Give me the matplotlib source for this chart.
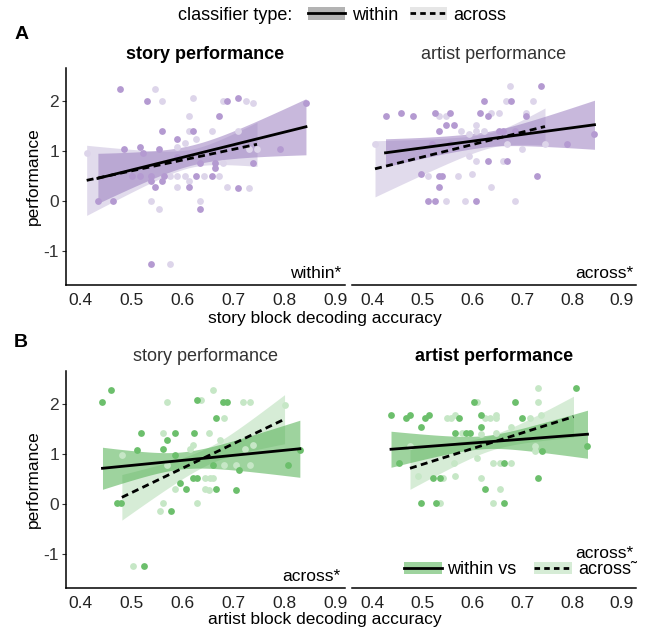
import numpy as np
import matplotlib
matplotlib.use('Agg')
import matplotlib.pyplot as plt
from matplotlib.lines import Line2D
from matplotlib.patches import Patch

plt.rcParams['font.family'] = ['Liberation Sans', 'DejaVu Sans']
plt.rcParams['font.size'] = 12
plt.rcParams['axes.unicode_minus'] = False

# ---- data (decoding accuracy, performance) ----
# A: story block decoding accuracy
a_story_within_x = [0.479, 0.532, 0.688, 0.709, 0.843, 0.673, 0.561, 0.621, 0.591, 0.487, 0.517, 0.524,
                    0.554, 0.792, 0.740, 0.665, 0.665, 0.635, 0.502, 0.517, 0.539, 0.565, 0.628, 0.658,
                    0.539, 0.560, 0.546, 0.613, 0.710, 0.435, 0.464, 0.636, 0.539, 0.591]
a_story_within_y = [2.24, 2.0, 2.0, 2.05, 1.95, 1.69, 1.4, 1.4, 1.24, 1.04, 1.07, 0.96,
                    1.04, 1.04, 0.75, 0.75, 0.65, 0.75, 0.49, 0.49, 0.49, 0.49, 0.49, 0.49,
                    0.4, 0.4, 0.28, 0.28, 0.25, 0.0, 0.0, -0.17, -1.26, 0.88]
a_story_across_x = [0.413, 0.546, 0.561, 0.621, 0.680, 0.725, 0.740, 0.613, 0.613, 0.658, 0.710, 0.628,
                    0.606, 0.591, 0.732, 0.747, 0.680, 0.576, 0.591, 0.606, 0.643, 0.673, 0.591, 0.688,
                    0.732, 0.539, 0.635, 0.554, 0.576, 0.613]
a_story_across_y = [0.95, 2.24, 2.0, 2.05, 2.0, 2.0, 1.95, 1.69, 1.4, 1.4, 1.4, 1.24,
                    1.15, 1.07, 1.04, 1.04, 0.75, 0.49, 0.49, 0.49, 0.49, 0.49, 0.28, 0.28,
                    0.25, 0.0, 0.0, -0.17, -1.26, 0.4]

a_artist_within_x = [0.427, 0.458, 0.481, 0.526, 0.557, 0.549, 0.565, 0.534, 0.617, 0.625, 0.678, 0.739,
                     0.633, 0.655, 0.663, 0.686, 0.709, 0.519, 0.556, 0.791, 0.845, 0.497, 0.534, 0.541,
                     0.534, 0.633, 0.671, 0.731, 0.511, 0.526, 0.609]
a_artist_within_y = [1.69, 1.75, 1.69, 1.75, 1.75, 1.51, 1.51, 1.39, 1.75, 2.0, 2.0, 2.29,
                     1.69, 1.39, 1.39, 1.39, 1.69, 1.14, 1.14, 1.14, 1.33, 0.53, 0.49, 0.49,
                     0.27, 0.79, 0.79, 0.49, 0.0, 0.0, 0.0]
a_artist_across_x = [0.406, 0.534, 0.549, 0.639, 0.655, 0.669, 0.677, 0.723, 0.609, 0.609, 0.579, 0.595,
                     0.625, 0.671, 0.708, 0.746, 0.701, 0.511, 0.573, 0.601, 0.609, 0.663, 0.595, 0.639,
                     0.549, 0.586, 0.686]
a_artist_across_y = [1.14, 1.69, 1.69, 1.75, 1.75, 2.0, 2.29, 2.0, 1.51, 1.39, 1.39, 1.34,
                     1.39, 1.14, 1.75, 1.14, 1.04, 0.49, 0.49, 0.53, 0.79, 0.79, 0.89, 0.27,
                     0.0, 0.0, 0.0]

# B: artist block decoding accuracy
b_story_within_x = [0.444, 0.460, 0.519, 0.511, 0.571, 0.563, 0.586, 0.623, 0.630, 0.667, 0.681, 0.689,
                    0.586, 0.596, 0.608, 0.622, 0.629, 0.667, 0.705, 0.712, 0.808, 0.831, 0.473, 0.480,
                    0.578, 0.526, 0.661]
b_story_within_y = [2.03, 2.27, 1.42, 1.07, 1.27, 1.1, 1.42, 1.42, 2.07, 1.71, 2.03, 2.03,
                    0.97, 0.42, 0.3, 0.52, 0.52, 0.3, 0.27, 0.68, 0.78, 1.07, 0.01, 0.01,
                    -0.15, -1.24, 0.77]
b_story_across_x = [0.482, 0.571, 0.638, 0.660, 0.719, 0.734, 0.682, 0.563, 0.652, 0.675, 0.622, 0.615,
                    0.724, 0.740, 0.682, 0.705, 0.734, 0.571, 0.586, 0.645, 0.654, 0.660, 0.645, 0.653,
                    0.563, 0.630, 0.556, 0.503, 0.801]
b_story_across_y = [0.98, 2.03, 2.07, 2.27, 2.03, 2.03, 1.71, 1.42, 1.42, 1.27, 1.17, 1.1,
                    1.1, 1.17, 0.77, 0.77, 0.77, 0.77, 0.3, 0.52, 0.52, 0.52, 0.3, 0.27,
                    0.01, 0.01, -0.15, -1.24, 1.98]

b_artist_within_x = [0.438, 0.467, 0.476, 0.506, 0.513, 0.498, 0.566, 0.589, 0.596, 0.605, 0.619, 0.619,
                     0.687, 0.701, 0.809, 0.741, 0.831, 0.453, 0.521, 0.536, 0.626, 0.665, 0.733, 0.498,
                     0.528, 0.665, 0.574]
b_artist_within_y = [1.77, 1.71, 1.77, 1.71, 1.77, 1.53, 1.41, 1.41, 1.41, 2.03, 1.77, 1.53,
                     2.03, 1.71, 2.31, 1.06, 1.16, 0.81, 0.51, 0.51, 0.29, 0.81, 0.51, 0.01,
                     0.01, 0.01, 1.71]
b_artist_across_x = [0.491, 0.543, 0.566, 0.551, 0.559, 0.566, 0.581, 0.611, 0.626, 0.636, 0.649, 0.649,
                     0.733, 0.733, 0.717, 0.679, 0.739, 0.726, 0.726, 0.619, 0.649, 0.611, 0.565, 0.643,
                     0.656, 0.679, 0.619, 0.657, 0.536, 0.643, 0.476]
b_artist_across_y = [0.56, 0.51, 0.55, 1.71, 1.71, 1.77, 1.41, 2.03, 1.71, 1.71, 1.77, 1.71,
                     2.31, 2.03, 1.71, 1.53, 1.77, 1.16, 1.06, 1.39, 1.41, 0.91, 0.81, 0.81,
                     0.81, 0.81, 0.51, 0.29, 0.01, 0.01, 1.16]

# regression fits:
# [x start, x end, y start, y end, x of narrowest band, half-width at start, at narrowest, at end]
a_story_within_fit = [0.435, 0.843, 0.45, 1.48, 0.62, 0.50, 0.20, 0.56]
a_story_across_fit = [0.413, 0.747, 0.41, 1.13, 0.62, 0.70, 0.18, 0.44]
a_artist_within_fit = [0.427, 0.845, 0.96, 1.52, 0.62, 0.28, 0.15, 0.49]
a_artist_across_fit = [0.406, 0.746, 0.64, 1.485, 0.64, 0.56, 0.15, 0.37]
b_story_within_fit = [0.444, 0.831, 0.71, 1.10, 0.60, 0.42, 0.17, 0.57]
b_story_across_fit = [0.482, 0.801, 0.13, 1.69, 0.65, 0.455, 0.17, 0.49]
b_artist_within_fit = [0.438, 0.831, 1.09, 1.39, 0.62, 0.36, 0.13, 0.48]
b_artist_across_fit = [0.476, 0.803, 0.71, 1.74, 0.64, 0.42, 0.15, 0.41]

x_ticks = [0.4, 0.5, 0.6, 0.7, 0.8, 0.9]
y_ticks = [-1, 0, 1, 2]

purple = {'within_pt': '#B49AD1', 'across_pt': '#DDD5EA', 'within_band': '#9B7FC0', 'across_band': '#C9BEDD'}
green = {'within_pt': '#6CBF6C', 'across_pt': '#C6E7C6', 'within_band': '#4FAF4F', 'across_band': '#B5DDB5'}
band_alpha = {'within': 0.55, 'across': 0.55}


def fit_band(fit):
    # straight fitted line plus its (hyperbolic) confidence band
    x0, x1, y0, y1, xc, hw0, hwc, hw1 = fit
    xs = np.linspace(x0, x1, 100)
    ys = y0 + (y1 - y0) * (xs - x0) / (x1 - x0)
    left = np.sqrt(hwc ** 2 + (hw0 ** 2 - hwc ** 2) * ((xs - xc) / (x0 - xc)) ** 2)
    right = np.sqrt(hwc ** 2 + (hw1 ** 2 - hwc ** 2) * ((xs - xc) / (x1 - xc)) ** 2)
    hw = np.where(xs < xc, left, right)
    return xs, ys, ys - hw, ys + hw


def draw_panel(ax, wx, wy, cx, cy, wfit, cfit, col, xlim):
    for fit, key in [(cfit, 'across'), (wfit, 'within')]:
        xs, ys, lo, hi = fit_band(fit)
        ax.fill_between(xs, lo, hi, color=col[key + '_band'], alpha=band_alpha[key], lw=0, zorder=1)
    ax.scatter(cx, cy, s=24, color=col['across_pt'], lw=0, zorder=2)
    ax.scatter(wx, wy, s=24, color=col['within_pt'], lw=0, zorder=2)
    xs, ys, lo, hi = fit_band(wfit)
    ax.plot(xs, ys, color='black', lw=2, zorder=3)
    xs, ys, lo, hi = fit_band(cfit)
    ax.plot(xs, ys, color='black', lw=2, ls=(0, (2.5, 1.6)), zorder=3)
    ax.set_xlim(xlim)
    ax.set_ylim(-1.68, 2.66)
    ax.set_xticks(x_ticks)
    ax.set_xticklabels([f'{t:.1f}' for t in x_ticks])
    ax.set_yticks(y_ticks)
    ax.tick_params(axis='x', length=0, pad=6, labelsize=12.5, colors='#222222')
    ax.tick_params(axis='y', length=3, pad=2, labelsize=12.5, colors='#333333')
    for sp in ['top', 'right']:
        ax.spines[sp].set_visible(False)
    ax.spines['bottom'].set_linewidth(1.1)
    ax.spines['left'].set_linewidth(1.1)


fig = plt.figure(figsize=(6.46, 6.30), dpi=100)

w_left, w_right = 0.4319, 0.4396
h = 0.345
axA1 = fig.add_axes([0.1022, 0.5476, w_left, h])
axA2 = fig.add_axes([0.5449, 0.5476, w_right, h])
axB1 = fig.add_axes([0.1022, 0.0667, w_left, h])
axB2 = fig.add_axes([0.5449, 0.0667, w_right, h])

xlim_left = (0.3725, 0.9196)
xlim_right = (0.36, 0.928)

draw_panel(axA1, a_story_within_x, a_story_within_y, a_story_across_x, a_story_across_y,
           a_story_within_fit, a_story_across_fit, purple, xlim_left)
draw_panel(axA2, a_artist_within_x, a_artist_within_y, a_artist_across_x, a_artist_across_y,
           a_artist_within_fit, a_artist_across_fit, purple, xlim_right)
draw_panel(axB1, b_story_within_x, b_story_within_y, b_story_across_x, b_story_across_y,
           b_story_within_fit, b_story_across_fit, green, xlim_left)
draw_panel(axB2, b_artist_within_x, b_artist_within_y, b_artist_across_x, b_artist_across_y,
           b_artist_within_fit, b_artist_across_fit, green, xlim_right)

for ax in [axA2, axB2]:
    ax.spines['left'].set_visible(False)
    ax.tick_params(axis='y', left=False, labelleft=False)

for ax in [axA1, axB1]:
    ax.set_ylabel('performance', fontsize=12.5, labelpad=2)

axA1.set_title('story performance', fontsize=13, fontweight='bold', pad=6)
axA2.set_title('artist performance', fontsize=13, color='#333333', pad=6)
axB1.set_title('story performance', fontsize=13, color='#333333', pad=7)
axB2.set_title('artist performance', fontsize=13, fontweight='bold', pad=7)

fig.text(0.503, 0.495, 'story block decoding accuracy', ha='center', va='center', fontsize=12.5)
fig.text(0.503, 0.016, 'artist block decoding accuracy', ha='center', va='center', fontsize=12.5)

fig.text(0.022, 0.946, 'A', fontsize=14, fontweight='bold', va='center')
fig.text(0.022, 0.457, 'B', fontsize=14, fontweight='bold', va='center')

axA1.text(0.985, 0.02, 'within*', transform=axA1.transAxes, ha='right', va='bottom', fontsize=12.5)
axA2.text(0.99, 0.02, 'across*', transform=axA2.transAxes, ha='right', va='bottom', fontsize=12.5)
axB1.text(0.985, 0.02, 'across*', transform=axB1.transAxes, ha='right', va='bottom', fontsize=12.5)
axB2.text(0.99, 0.125, 'across*', transform=axB2.transAxes, ha='right', va='bottom', fontsize=12.5)

# legend inside B right panel
hw = (Patch(color=green['within_band'], alpha=band_alpha['within'], lw=0), Line2D([], [], color='black', lw=2))
ha_ = (Patch(color=green['across_band'], alpha=band_alpha['across'], lw=0),
       Line2D([], [], color='black', lw=2, ls=(0, (2, 1.5))))
axB2.legend([hw, ha_], ['within vs', 'across\u02dc'], loc='lower right', bbox_to_anchor=(1.06, -0.03),
            ncol=2, frameon=False, fontsize=13, handlelength=2.1, handletextpad=0.3,
            columnspacing=1.0)

# top legend
fig.text(0.452, 0.976, 'classifier type:', ha='right', va='center', fontsize=13)
tw = (Patch(color='#B3B3B3', lw=0), Line2D([], [], color='black', lw=2))
ta = (Patch(color='#E6E6E6', lw=0), Line2D([], [], color='black', lw=2, ls=(0, (2, 1.5))))
fig.legend([tw, ta], ['within', 'across'], loc='center left', bbox_to_anchor=(0.466, 0.976),
           ncol=2, frameon=False, fontsize=13, handlelength=2.05, handletextpad=0.35,
           columnspacing=0.65, borderaxespad=0)

fig.savefig('out.png', dpi=100)
